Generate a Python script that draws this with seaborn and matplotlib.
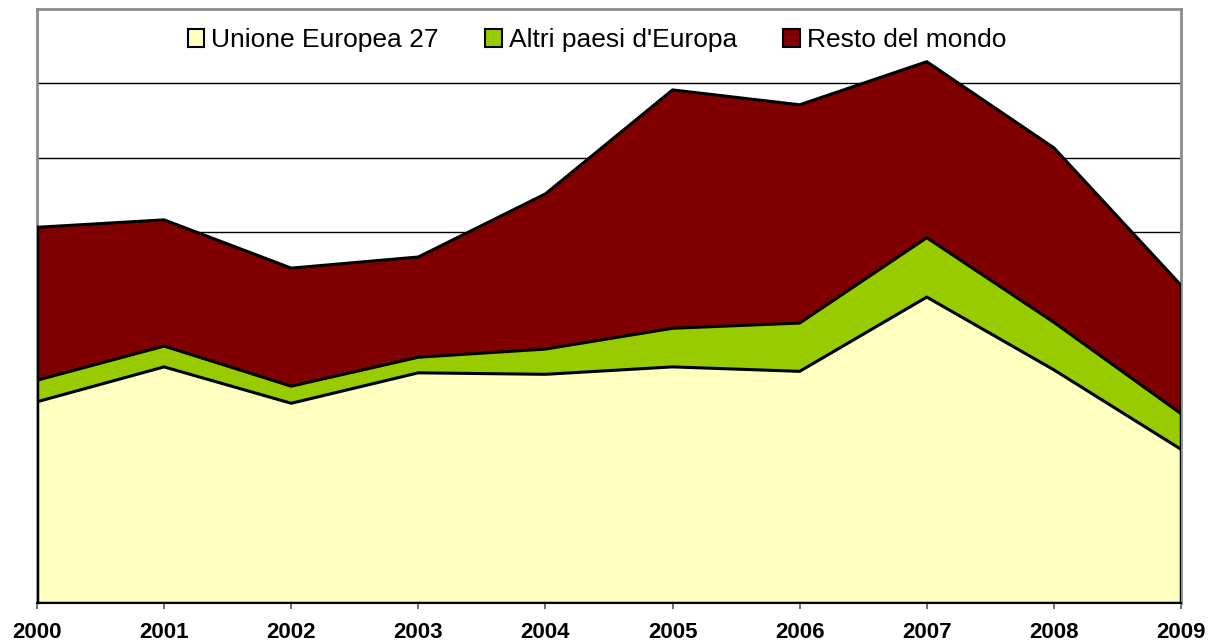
import numpy as np
import pandas as pd
import matplotlib
matplotlib.use("Agg")
import matplotlib.pyplot as plt
import seaborn as sns
from matplotlib.patches import Patch

years = [2000, 2001, 2002, 2003, 2004, 2005, 2006, 2007, 2008, 2009]
unione_europea = [2.71, 3.18, 2.69, 3.10, 3.08, 3.18, 3.12, 4.12, 3.14, 2.07]
altri_europa = [0.29, 0.28, 0.23, 0.21, 0.34, 0.52, 0.65, 0.80, 0.64, 0.48]
resto_mondo = [2.06, 1.70, 1.59, 1.35, 2.09, 3.21, 2.94, 2.37, 2.35, 1.73]
series_names = ["Unione Europea 27", "Altri paesi d'Europa", "Resto del mondo"]
colors = ["#FFFFC0", "#99CC00", "#800000"]

sns.set_theme(style="white")
plt.rcParams['font.family'] = ['Liberation Sans', 'DejaVu Sans']
plt.rcParams['text.color'] = 'black'
plt.rcParams['xtick.color'] = 'black'
plt.rcParams['xtick.labelcolor'] = 'black'

fig = plt.figure(figsize=(12.14, 6.44), dpi=100)
ax = fig.add_axes([37/1214, 1-603/644, (1181-37)/1214, (603-9)/644])

df = pd.DataFrame({"year": years,
                   "eu": unione_europea,
                   "altri": altri_europa,
                   "resto": resto_mondo})
df["c1"] = df["eu"]
df["c2"] = df["c1"] + df["altri"]
df["c3"] = df["c2"] + df["resto"]

ax.set_ylim(0, 8)
ax.set_xlim(years[0], years[-1])
for y in range(1, 8):
    ax.axhline(y, color="black", lw=1.0, zorder=0)

lower = np.zeros(len(years))
for col, c in zip(["c1", "c2", "c3"], colors):
    ax.fill_between(df["year"], lower, df[col], color=c, lw=0, zorder=1)
    lower = df[col].values

for col in ["c1", "c2", "c3"]:
    sns.lineplot(data=df, x="year", y=col, ax=ax, color="black", lw=2.2, zorder=3)
ax.plot([years[0], years[0]], [0, df["c3"].iloc[0]], color="black", lw=2.5, zorder=3)
ax.plot([years[-1], years[-1]], [0, df["c3"].iloc[-1]], color="black", lw=2.5, zorder=3)
ax.plot([years[0], years[-1]], [0, 0], color="black", lw=2.5, zorder=3)

ax.set_xlabel("")
ax.set_ylabel("")
ax.set_yticks([])
ax.set_xticks(years)
ax.set_xticklabels([str(y) for y in years], fontsize=16, fontweight="bold", color="black")
ax.tick_params(axis="x", direction="out", length=4.5, width=1.2, color="#555555",
               pad=9.5, bottom=True)
for side in ["left", "top", "right"]:
    ax.spines[side].set_color("#8c8c8c")
    ax.spines[side].set_linewidth(2)
ax.spines["bottom"].set_color("black")
ax.spines["bottom"].set_linewidth(1.5)

handles = [Patch(facecolor=c, edgecolor="black", lw=1.5) for c in colors]
leg = ax.legend(handles, series_names, loc="center",
                bbox_to_anchor=((597-37)/(1181-37), (603-40)/(603-9)),
                ncol=3, frameon=False, fontsize=19, handlelength=0.62, handleheight=0.66,
                handletextpad=0.27, columnspacing=1.75, borderaxespad=0.0,
                borderpad=0.0, labelcolor="black")

fig.savefig("out.png", dpi=100)
